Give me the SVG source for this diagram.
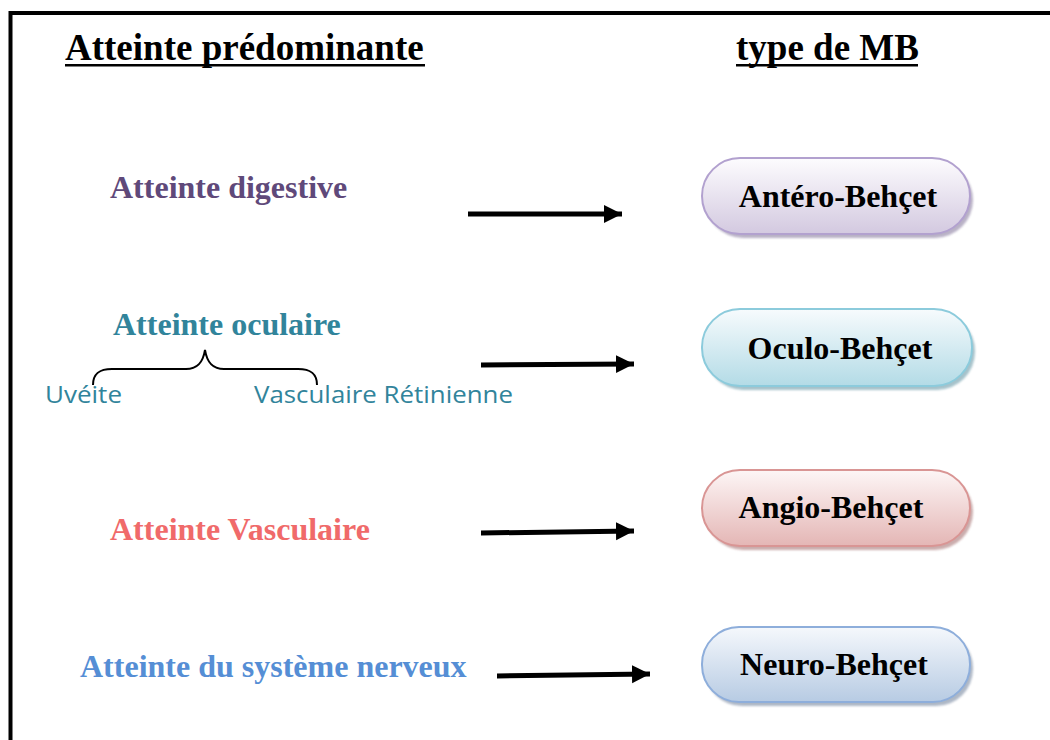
<svg xmlns="http://www.w3.org/2000/svg" width="1050" height="740" viewBox="0 0 1050 740">
<defs>
<style>
.t{font-family:"Liberation Serif","Times New Roman",serif;font-weight:bold}
.title{font-size:37px;fill:#000}
.lbl{font-size:32px}
.pt{font-size:32px;fill:#000;text-anchor:middle}
.sub{font-family:"Open Sans","Liberation Sans",sans-serif;font-size:24px;fill:#31849b}
.arr{stroke:#000;stroke-width:5;fill:none;marker-end:url(#ah)}
</style>
<marker id="ah" markerUnits="userSpaceOnUse" markerWidth="19" markerHeight="19" refX="18" refY="9.5" orient="auto">
<path d="M0,0.5 L18,9.5 L0,18.5 Z" fill="#000"/>
</marker>
<linearGradient id="gA" x1="0" y1="0" x2="0" y2="1"><stop offset="0" stop-color="#fdfcfe"/><stop offset="1" stop-color="#d3c9e0"/></linearGradient>
<linearGradient id="gO" x1="0" y1="0" x2="0" y2="1"><stop offset="0" stop-color="#f7fbfd"/><stop offset="1" stop-color="#b3dbe6"/></linearGradient>
<linearGradient id="gG" x1="0" y1="0" x2="0" y2="1"><stop offset="0" stop-color="#fdf6f6"/><stop offset="1" stop-color="#e4b6b5"/></linearGradient>
<linearGradient id="gN" x1="0" y1="0" x2="0" y2="1"><stop offset="0" stop-color="#f5f8fc"/><stop offset="1" stop-color="#b7cbe3"/></linearGradient>
<filter id="blur" x="-10%" y="-10%" width="120%" height="130%"><feGaussianBlur stdDeviation="1.2"/></filter>
</defs>
<rect width="1050" height="740" fill="#fff"/>
<rect x="10.5" y="13" width="1100" height="800" fill="none" stroke="#000" stroke-width="4"/>

<g id="headers">
<text class="t title" x="65" y="60">Atteinte prédominante</text>
<rect x="65" y="64" width="360" height="2.5" fill="#000"/>
<text class="t title" x="736" y="60">type de MB</text>
<rect x="736" y="64" width="182" height="2.5" fill="#000"/>
</g>

<g id="left-digestive"><text class="t lbl" x="110" y="198" fill="#5f497a">Atteinte digestive</text></g>
<g id="left-oculaire">
<text class="t lbl" x="113" y="335" fill="#31849b">Atteinte oculaire</text>
<path d="M93,385 C93,373 100,369 112,369 L186,369 C198,369 203,362 205,350 C207,362 212,369 224,369 L298,369 C310,369 317,373 317,385" fill="none" stroke="#000" stroke-width="2"/>
<text class="sub" x="45" y="403" textLength="77" lengthAdjust="spacingAndGlyphs">Uvéite</text>
<text class="sub" x="254" y="403" textLength="259" lengthAdjust="spacingAndGlyphs">Vasculaire Rétinienne</text>
</g>
<g id="left-vasculaire"><text class="t lbl" x="110" y="540" fill="#f06a6a">Atteinte Vasculaire</text></g>
<g id="left-nerveux"><text class="t lbl" x="80" y="677" fill="#558ed5">Atteinte du système nerveux</text></g>

<g id="connectors">
<line class="arr" x1="468" y1="214" x2="622" y2="214"/>
<line class="arr" x1="481" y1="365" x2="634" y2="364"/>
<line class="arr" x1="481" y1="533" x2="634" y2="531"/>
<line class="arr" x1="497" y1="676" x2="650" y2="674"/>
</g>

<g id="node-antero">
<rect x="705" y="162" width="268" height="76" rx="38" fill="#8a7ea0" opacity="0.6" filter="url(#blur)"/>
<rect x="702" y="158" width="268" height="76" rx="38" fill="url(#gA)" stroke="#b2a1cf" stroke-width="2"/>
<text class="t pt" x="838" y="207">Antéro-Behçet</text>
</g>
<g id="node-oculo">
<rect x="705" y="313" width="270" height="77" rx="38" fill="#6a9aa8" opacity="0.6" filter="url(#blur)"/>
<rect x="702" y="309" width="270" height="77" rx="38" fill="url(#gO)" stroke="#8ccbdc" stroke-width="2"/>
<text class="t pt" x="840" y="359">Oculo-Behçet</text>
</g>
<g id="node-angio">
<rect x="705" y="474" width="268" height="76" rx="38" fill="#a87676" opacity="0.6" filter="url(#blur)"/>
<rect x="702" y="470" width="268" height="76" rx="38" fill="url(#gG)" stroke="#d99594" stroke-width="2"/>
<text class="t pt" x="831" y="518">Angio-Behçet</text>
</g>
<g id="node-neuro">
<rect x="705" y="631" width="268" height="75" rx="37" fill="#7888a0" opacity="0.6" filter="url(#blur)"/>
<rect x="702" y="627" width="268" height="75" rx="37" fill="url(#gN)" stroke="#8eaedb" stroke-width="2"/>
<text class="t pt" x="834" y="675">Neuro-Behçet</text>
</g>
</svg>
